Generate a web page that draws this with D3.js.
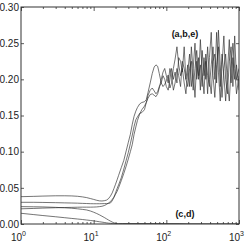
<!DOCTYPE html>
<html>
<head>
<meta charset="utf-8">
<script src="https://cdn.jsdelivr.net/npm/d3@7"></script>
<style>
  html, body { margin: 0; padding: 0; background: #fff; }
  svg { display: block; font-family: "Liberation Sans", Arial, Helvetica, sans-serif; }
</style>
</head>
<body>
<svg id="chart" width="249" height="242"></svg>
<script>
// ---- data ----
const xRise = [1, 1.5, 2, 3, 4, 5, 6, 7, 8, 9, 10, 11, 12, 13, 14, 15, 16, 17, 18, 19, 20, 21, 22, 24, 26, 28, 30, 32, 34, 36, 38, 40, 43, 46, 50, 53, 56, 60, 64, 68, 72, 76, 80, 85, 90, 95, 100, 106, 112, 118, 125, 132, 140, 148, 157, 166, 176, 186, 197, 209, 221, 234, 248, 262, 278, 294, 311, 330, 349, 370, 392, 415, 439, 465, 492, 521, 552, 584, 619, 655, 694, 735, 778, 824, 872, 924, 1000];

const seriesA = [0.0378, 0.0382, 0.0386, 0.0390, 0.0390, 0.0388, 0.0383, 0.0375, 0.0365, 0.0352, 0.0340, 0.0328, 0.0320, 0.0318, 0.0322, 0.0330, 0.0350, 0.0385, 0.0430, 0.0490, 0.0550, 0.0610, 0.0670, 0.0780, 0.0880, 0.1010, 0.1130, 0.1240, 0.1380, 0.1490, 0.1560, 0.1610, 0.1660, 0.1680, 0.1690, 0.1720, 0.1820, 0.1950, 0.2080, 0.2170, 0.2200, 0.2180, 0.2080, 0.1950, 0.1900, 0.1930, 0.1980, 0.2060, 0.1880, 0.1950, 0.2150, 0.2280, 0.2450, 0.2200, 0.2050, 0.2150, 0.1950, 0.1800, 0.2100, 0.2350, 0.1900, 0.2150, 0.2500, 0.2000, 0.2300, 0.1850, 0.2400, 0.2050, 0.2250, 0.1800, 0.2300, 0.2650, 0.2050, 0.1750, 0.2200, 0.2450, 0.1900, 0.2350, 0.2050, 0.1700, 0.2100, 0.2550, 0.1950, 0.2300, 0.2000, 0.2200, 0.1850];

const seriesB = [0.0300, 0.0300, 0.0298, 0.0295, 0.0292, 0.0290, 0.0288, 0.0285, 0.0283, 0.0281, 0.0280, 0.0280, 0.0280, 0.0281, 0.0282, 0.0283, 0.0284, 0.0290, 0.0320, 0.0370, 0.0430, 0.0490, 0.0540, 0.0640, 0.0760, 0.0880, 0.0990, 0.1110, 0.1230, 0.1350, 0.1440, 0.1480, 0.1530, 0.1540, 0.1580, 0.1680, 0.1780, 0.1850, 0.1880, 0.1840, 0.1800, 0.1830, 0.1900, 0.1950, 0.2050, 0.2000, 0.1900, 0.1850, 0.2000, 0.2150, 0.2000, 0.2100, 0.1950, 0.2300, 0.2250, 0.2100, 0.2450, 0.2000, 0.2200, 0.1900, 0.2450, 0.2100, 0.1750, 0.2250, 0.2000, 0.2550, 0.2100, 0.1800, 0.2350, 0.2050, 0.1900, 0.2200, 0.2450, 0.2000, 0.2650, 0.2100, 0.1700, 0.2200, 0.2600, 0.2000, 0.1800, 0.2250, 0.2450, 0.1900, 0.2600, 0.2000, 0.2150];

const seriesE = [0.0210, 0.0215, 0.0220, 0.0225, 0.0228, 0.0230, 0.0232, 0.0233, 0.0233, 0.0233, 0.0234, 0.0236, 0.0240, 0.0245, 0.0255, 0.0270, 0.0290, 0.0310, 0.0340, 0.0370, 0.0410, 0.0450, 0.0500, 0.0600, 0.0700, 0.0800, 0.0900, 0.1000, 0.1100, 0.1240, 0.1340, 0.1430, 0.1520, 0.1580, 0.1630, 0.1680, 0.1740, 0.1790, 0.1800, 0.1780, 0.1760, 0.1800, 0.1880, 0.2000, 0.2100, 0.2150, 0.2050, 0.1950, 0.2150, 0.2050, 0.1850, 0.1950, 0.2150, 0.2050, 0.1900, 0.2250, 0.2150, 0.2000, 0.1900, 0.2150, 0.2250, 0.1850, 0.2150, 0.2400, 0.2050, 0.2200, 0.1900, 0.2300, 0.2000, 0.2450, 0.2000, 0.1800, 0.2250, 0.2350, 0.1950, 0.2680, 0.2200, 0.1750, 0.2150, 0.2350, 0.1950, 0.1700, 0.2150, 0.2500, 0.2150, 0.1800, 0.2050];

const xFall = [1, 1.5, 2, 3, 4, 5, 6, 7, 8, 9, 10, 11, 12, 13, 14, 15, 16, 17, 18, 19, 20, 21, 22, 25, 30, 40, 60, 100, 150, 200, 1000];
const seriesC = [0.0240, 0.0238, 0.0236, 0.0230, 0.0224, 0.0218, 0.0210, 0.0202, 0.0194, 0.0180, 0.0163, 0.0145, 0.0127, 0.0108, 0.0090, 0.0072, 0.0055, 0.0040, 0.0027, 0.0016, 0.0008, 0.0004, 0.0003, 0.0005, 0.0005, 0.0005, 0.0004, 0.0004, 0.0003, 0, 0];
const seriesD = [0.0148, 0.0130, 0.0117, 0.0100, 0.0087, 0.0077, 0.0069, 0.0062, 0.0055, 0.0049, 0.0043, 0.0037, 0.0031, 0.0026, 0.0021, 0.0016, 0.0012, 0.0009, 0.0006, 0.0004, 0.0003, 0.0002, 0.0002, 0.0003, 0.0003, 0.0003, 0.0003, 0.0002, 0.0002, 0, 0];

const xMajorTicks = [1, 10, 100, 1000];
const xMajorExps = ["0", "1", "2", "3"];
const xMinorTicks = [2,3,4,5,6,7,8,9,20,30,40,50,60,70,80,90,200,300,400,500,600,700,800,900];
const yTicks = [0, 0.05, 0.10, 0.15, 0.20, 0.25, 0.30];
const annotations = [{text: "(a,b,e)", x: 180, y: 0.258}, {text: "(c,d)", x: 180, y: 0.009}];

// ---- layout ----
const L = 21, R = 239, T = 7, B = 224;
const svg = d3.select("#chart");
const x = d3.scaleLog().domain([1, 1000]).range([L, R]);
const y = d3.scaleLinear().domain([0, 0.3]).range([B, T]);

svg.append("defs").append("clipPath").attr("id", "clip")
  .append("rect").attr("x", L).attr("y", T).attr("width", R - L).attr("height", B - T);

const line = d3.line().x(d => x(d[0])).y(d => y(d[1]));
const plot = svg.append("g").attr("clip-path", "url(#clip)");
const all = [
  [xRise, seriesA], [xRise, seriesB], [xRise, seriesE],
  [xFall, seriesC], [xFall, seriesD]
];
all.forEach(([xs, ys]) => {
  plot.append("path")
    .attr("d", line(xs.map((v, i) => [v, ys[i]])))
    .attr("fill", "none").attr("stroke", "#2a2a2a").attr("stroke-width", 0.65);
});

// axes (inward ticks)
function styleAxis(g) {
  g.select(".domain").remove();
  g.selectAll(".tick line").attr("stroke", "#333").attr("stroke-width", 0.8);
  g.selectAll("text").attr("fill", "#222").style("font-size", "10px")
    .style("font-family", "'Liberation Sans', Arial, Helvetica, sans-serif");
}
svg.append("g").attr("transform", `translate(0,${B})`)
  .call(d3.axisBottom(x).tickValues(xMajorTicks).tickSize(-4).tickFormat("")).call(styleAxis);
svg.append("g").attr("transform", `translate(0,${B})`)
  .call(d3.axisBottom(x).tickValues(xMinorTicks).tickSize(-2).tickFormat("")).call(styleAxis);
svg.append("g").attr("transform", `translate(0,${T})`)
  .call(d3.axisTop(x).tickValues(xMajorTicks).tickSize(-4).tickFormat("")).call(styleAxis);
svg.append("g").attr("transform", `translate(0,${T})`)
  .call(d3.axisTop(x).tickValues(xMinorTicks).tickSize(-2).tickFormat("")).call(styleAxis);
svg.append("g").attr("transform", `translate(${L},0)`)
  .call(d3.axisLeft(y).tickValues(yTicks).tickSize(-3).tickPadding(2).tickFormat(d3.format(".2f"))).call(styleAxis);
svg.append("g").attr("transform", `translate(${R},0)`)
  .call(d3.axisRight(y).tickValues(yTicks).tickSize(-3).tickFormat("")).call(styleAxis);

// frame
svg.append("rect").attr("x", L).attr("y", T).attr("width", R - L).attr("height", B - T)
  .attr("fill", "none").attr("stroke", "#333").attr("stroke-width", 1);

// x tick labels with superscripts
const xl = svg.append("g");
xMajorTicks.forEach((t, i) => {
  xl.append("text").attr("x", x(t) + 1).attr("y", 241)
    .attr("text-anchor", "end").attr("fill", "#222").style("font-size", "10px").text("10");
  xl.append("text").attr("x", x(t) + 1).attr("y", 236)
    .attr("fill", "#222").style("font-size", "7px").text(xMajorExps[i]);
});

// annotations
svg.selectAll(".ann").data(annotations).enter().append("text")
  .attr("x", d => x(d.x)).attr("y", d => y(d.y))
  .attr("text-anchor", "middle").style("font-size", "9px").style("font-weight", "bold")
  .attr("fill", "#111").text(d => d.text);
</script>
</body>
</html>
